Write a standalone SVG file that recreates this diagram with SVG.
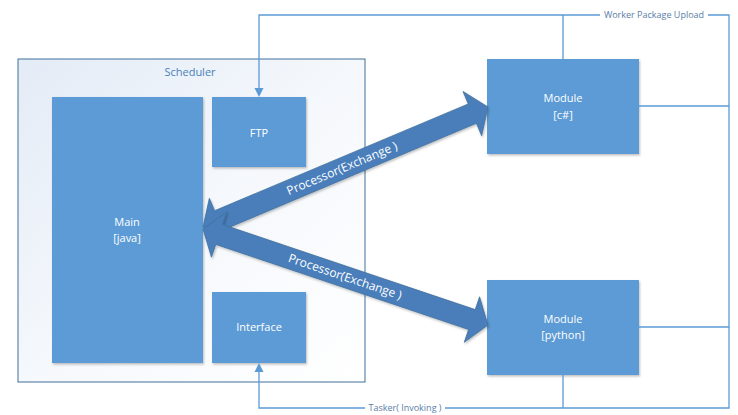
<svg xmlns="http://www.w3.org/2000/svg" width="738" height="415" viewBox="0 0 738 415">
<defs>
<linearGradient id="bg" x1="0" y1="0" x2="1" y2="1">
<stop offset="0" stop-color="#e3ebf6"/>
<stop offset="0.5" stop-color="#f5f8fc"/>
<stop offset="1" stop-color="#ffffff"/>
</linearGradient>
<filter id="sh" x="-10%" y="-10%" width="130%" height="130%">
<feDropShadow dx="1" dy="1.5" stdDeviation="1.2" flood-color="#000" flood-opacity="0.25"/>
</filter>
<style>
.node{fill:#5b9bd5;filter:url(#sh)}
.nt{font-family:"Open Sans","Noto Sans",sans-serif;font-size:11px;fill:#ffffff;text-anchor:middle}
.ln{fill:none;stroke:#5b9bd5;stroke-width:1.3}
.lbl{font-family:"Open Sans","Noto Sans",sans-serif;font-size:9px;fill:#5a7ea8;text-anchor:middle}
.big{fill:#4a7ebb;stroke:#41719c;stroke-width:0.8;filter:url(#sh)}
.at{font-family:"Open Sans","Noto Sans",sans-serif;font-size:12px;fill:#ffffff;text-anchor:middle}
.ah{fill:#5b9bd5}
</style>
</defs>
<rect width="738" height="415" fill="#ffffff"/>
<g id="scheduler">
<rect x="18" y="59" width="347" height="323" fill="url(#bg)" stroke="#41719c" stroke-width="1"/>
<text x="190" y="76" style="font-family:'Open Sans','Noto Sans',sans-serif;font-size:11px;fill:#4a7ebb;text-anchor:middle">Scheduler</text>
</g>
<g id="main">
<rect class="node" x="52" y="97" width="151" height="266"/>
<text class="nt" x="127" y="226">Main</text>
<text class="nt" x="127" y="242">[java]</text>
</g>
<g id="ftp">
<rect class="node" x="212" y="97" width="94" height="70"/>
<text class="nt" x="259" y="137">FTP</text>
</g>
<g id="interface">
<rect class="node" x="212" y="292" width="94" height="71"/>
<text class="nt" x="259" y="331">Interface</text>
</g>
<g id="module-csharp">
<rect class="node" x="487" y="59" width="152" height="95"/>
<text class="nt" x="563" y="102">Module</text>
<text class="nt" x="563" y="119">[c#]</text>
</g>
<g id="module-python">
<rect class="node" x="487" y="280" width="152" height="95"/>
<text class="nt" x="563" y="323">Module</text>
<text class="nt" x="563" y="339">[python]</text>
</g>
<g id="connectors">
<path class="ln" d="M259 88 V15 H600 M708 15 H729 V408 H445 M365 408 H259 V372"/>
<path class="ln" d="M563 59 V15 M639 106 H729 M639 327 H729 M563 375 V408"/>
<polygon class="ah" points="254.5,88 263.5,88 259,97"/>
<polygon class="ah" points="254.5,372 263.5,372 259,363"/>
<text class="lbl" x="654" y="18">Worker Package Upload</text>
<text class="lbl" x="405" y="411">Tasker( Invoking )</text>
<polygon class="big" points="203,227 209.36,198.28 214.6,210.72 468.26,103.92 463.02,91.48 488,107 481.64,135.72 476.4,123.28 222.74,230.08 227.98,242.52"/>
<polygon class="big" points="203,229 226.77,211.68 222.46,224.48 475.24,309.62 479.55,296.82 488,325 464.23,342.32 468.54,329.52 215.76,244.38 211.45,257.18"/>
<text class="at" transform="translate(342,168.5) rotate(-22.83)" y="4">Processor(Exchange )</text>
<text class="at" transform="translate(345,276.8) rotate(18.62)" y="4">Processor(Exchange )</text>
</g>
</svg>
